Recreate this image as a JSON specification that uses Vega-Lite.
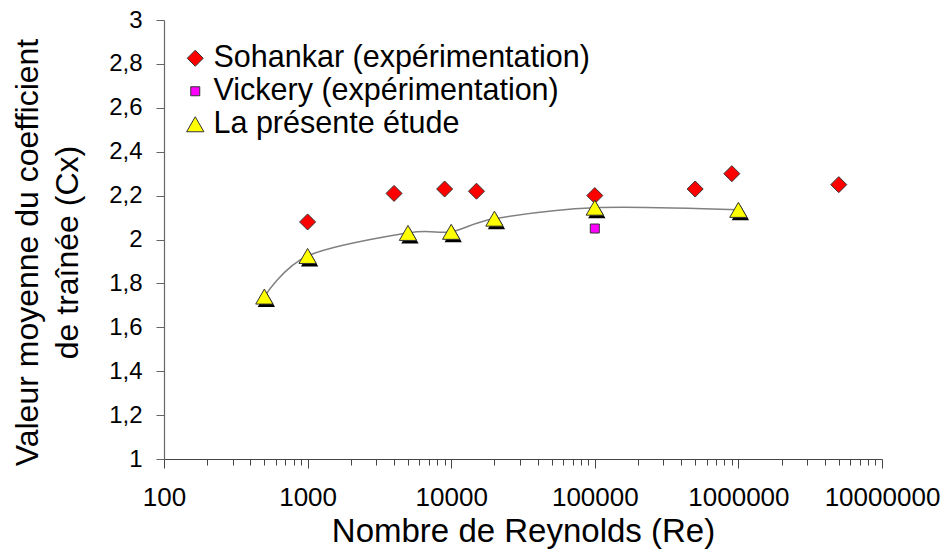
{
  "$schema": "https://vega.github.io/schema/vega-lite/v6.json",
  "width": 718,
  "height": 439,
  "autosize": {"type": "none"},
  "padding": {"left": 164, "top": 20, "right": 63, "bottom": 93},
  "background": "white",
  "config": {
    "font": "Arial, Liberation Sans, sans-serif",
    "view": {"stroke": null},
    "axis": {"grid": false, "labelColor": "#000", "titleColor": "#000", "titleFontWeight": "normal", "domainColor": "#666", "tickColor": "#666", "domainWidth": 1.2, "tickWidth": 1, "labelFont": "Arial, Liberation Sans, sans-serif", "titleFont": "Arial, Liberation Sans, sans-serif"},
    "legend": {"labelFont": "Arial, Liberation Sans, sans-serif"}
  },
  "data": {
    "values": [
      {"Re": 1000, "Cx": 2.08, "series": "Sohankar (expérimentation)"},
      {"Re": 4000, "Cx": 2.21, "series": "Sohankar (expérimentation)"},
      {"Re": 9000, "Cx": 2.23, "series": "Sohankar (expérimentation)"},
      {"Re": 15000, "Cx": 2.22, "series": "Sohankar (expérimentation)"},
      {"Re": 100000, "Cx": 2.2, "series": "Sohankar (expérimentation)"},
      {"Re": 500000, "Cx": 2.23, "series": "Sohankar (expérimentation)"},
      {"Re": 900000, "Cx": 2.3, "series": "Sohankar (expérimentation)"},
      {"Re": 5000000, "Cx": 2.25, "series": "Sohankar (expérimentation)"},
      {"Re": 100000, "Cx": 2.05, "series": "Vickery (expérimentation)"},
      {"Re": 500, "Cx": 1.74, "series": "La présente étude"},
      {"Re": 1000, "Cx": 1.925, "series": "La présente étude"},
      {"Re": 5000, "Cx": 2.03, "series": "La présente étude"},
      {"Re": 10000, "Cx": 2.035, "series": "La présente étude"},
      {"Re": 20000, "Cx": 2.095, "series": "La présente étude"},
      {"Re": 100000, "Cx": 2.145, "series": "La présente étude"},
      {"Re": 1000000, "Cx": 2.135, "series": "La présente étude"}
    ]
  },
  "encoding": {
    "x": {
      "field": "Re", "type": "quantitative",
      "scale": {"type": "log", "domain": [100, 10000000], "nice": false},
      "axis": {
        "title": "Nombre de Reynolds (Re)",
        "titleFontSize": 33, "titlePadding": 5,
        "labelFontSize": 26, "labelPadding": 16,
        "tickSize": {"condition": {"test": "indexof([100,1000,10000,100000,1000000,10000000], datum.value) >= 0", "value": 9}, "value": 6},
        "labelOverlap": false, "labelFlush": false, "labelBound": false,
        "domainColor": "#444", "tickColor": "#444",
        "values": [100,200,300,400,500,600,700,800,900,1000,2000,3000,4000,5000,6000,7000,8000,9000,10000,20000,30000,40000,50000,60000,70000,80000,90000,100000,200000,300000,400000,500000,600000,700000,800000,900000,1000000,2000000,3000000,4000000,5000000,6000000,7000000,8000000,9000000,10000000],
        "labelExpr": "indexof([100,1000,10000,100000,1000000,10000000], datum.value) >= 0 ? format(datum.value, 'd') : ''"
      }
    },
    "y": {
      "field": "Cx", "type": "quantitative",
      "scale": {"domain": [1, 3], "nice": false, "zero": false},
      "axis": {
        "title": ["Valeur moyenne du coefficient", "de traînée  (Cx)"],
        "titleFontSize": 32, "titleLineHeight": 40, "titlePadding": 24, "titleY": 232,
        "labelFontSize": 24, "labelPadding": 14, "tickSize": 8,
        "values": [1, 1.2, 1.4, 1.6, 1.8, 2, 2.2, 2.4, 2.6, 2.8, 3],
        "labelExpr": "datum.value % 1 == 0 ? format(datum.value, 'd') : replace(format(datum.value, '.1f'), '.', ',')"
      }
    }
  },
  "layer": [
    {
      "transform": [{"filter": "datum.series == 'La présente étude'"}],
      "mark": {"type": "line", "interpolate": "cardinal", "color": "#808080", "strokeWidth": 1.5}
    },
    {
      "transform": [{"filter": "datum.series == 'La présente étude'"}],
      "mark": {"type": "point", "shape": "triangle-up", "filled": true, "color": "#000", "size": 300, "opacity": 1, "xOffset": 2, "yOffset": 3}
    },
    {
      "mark": {"type": "point", "filled": true, "opacity": 1, "stroke": "#333", "strokeWidth": 1},
      "encoding": {
        "color": {
          "field": "series", "type": "nominal",
          "scale": {"domain": ["Sohankar (expérimentation)", "Vickery (expérimentation)", "La présente étude"], "range": ["#FF0000", "#FF00FF", "#FFFF00"]},
          "legend": {
            "title": null, "orient": "none", "legendX": 16, "legendY": 23,
            "labelFontSize": 30.5, "labelColor": "#000", "labelOffset": 3, "rowPadding": 2, "labelLimit": 600,
            "symbolStrokeColor": "#333", "symbolStrokeWidth": 1, "padding": 0
          }
        },
        "shape": {
          "field": "series", "type": "nominal",
          "scale": {"domain": ["Sohankar (expérimentation)", "Vickery (expérimentation)", "La présente étude"], "range": ["diamond", "square", "triangle-up"]}
        },
        "size": {
          "field": "series", "type": "nominal",
          "scale": {"type": "ordinal", "domain": ["Sohankar (expérimentation)", "Vickery (expérimentation)", "La présente étude"], "range": [256, 81, 300]}
        }
      }
    }
  ]
}
